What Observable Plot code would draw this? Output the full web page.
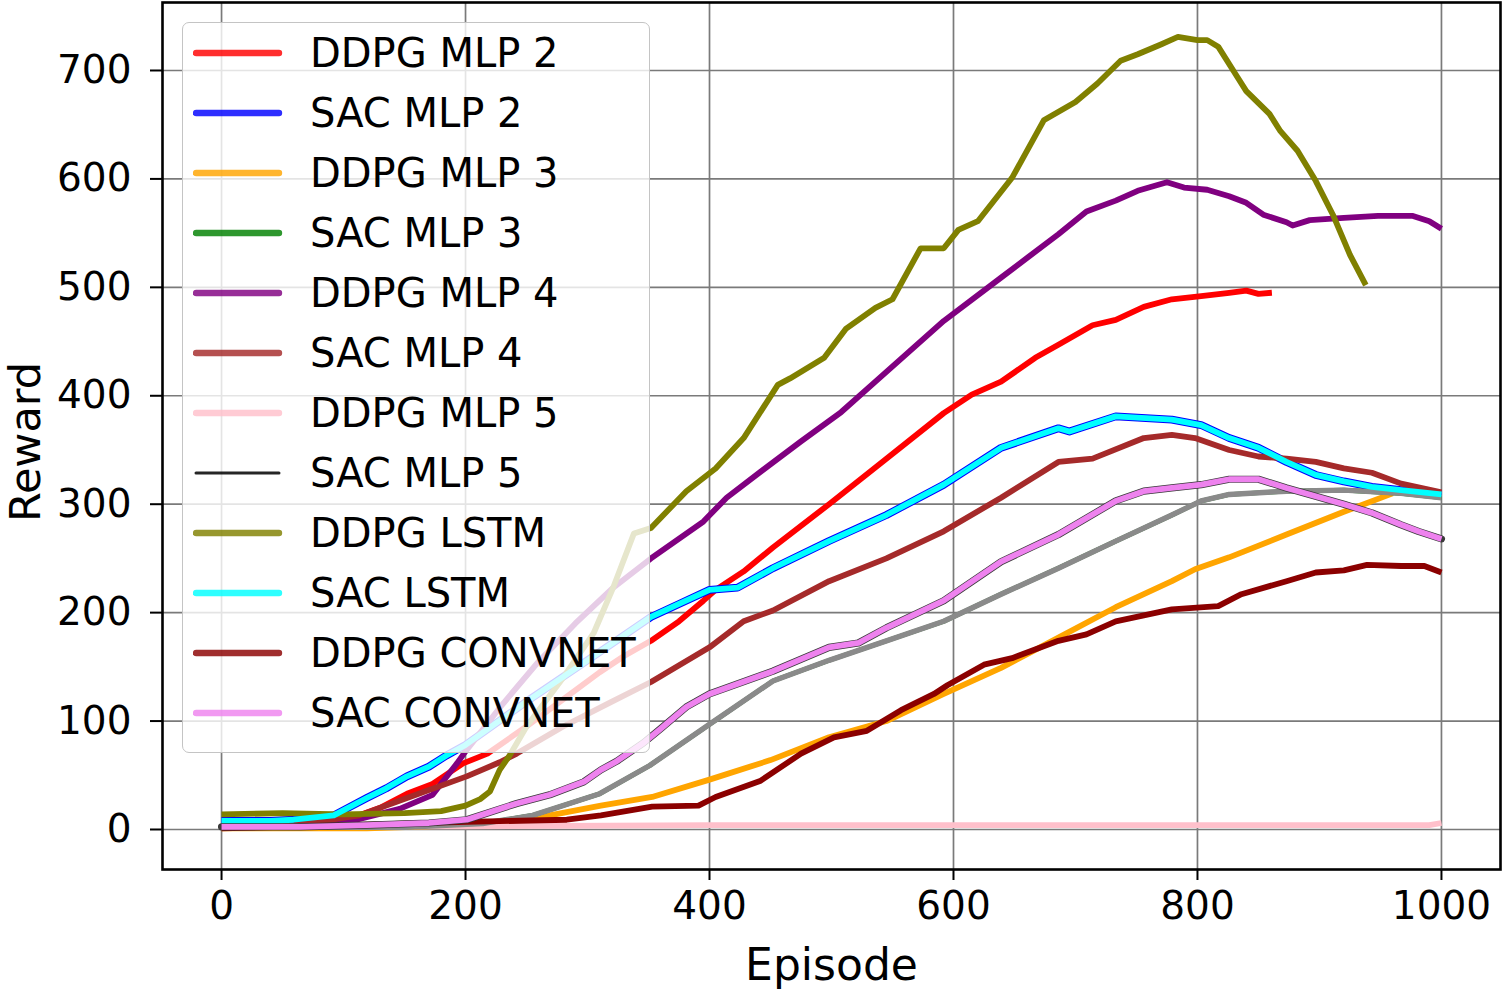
<!DOCTYPE html>
<html><head><meta charset="utf-8">
<script src="https://cdn.jsdelivr.net/npm/d3@7"></script>
<script src="https://cdn.jsdelivr.net/npm/@observablehq/plot@0.6"></script>
<style>
body{margin:0;background:#fff;}
#wrap{position:relative;width:1504px;height:996px;overflow:hidden;}
#legend{position:absolute;left:182px;top:22px;width:468px;height:731px;box-sizing:border-box;background:rgba(255,255,255,0.8);border:1.5px solid #c4c4c4;border-radius:7px;font-family:"DejaVu Sans",sans-serif;color:#000;}
.row{position:absolute;left:0;height:60px;display:flex;align-items:center;}
.row svg{margin-left:10px;}
.row span{position:absolute;left:127px;font-size:40px;white-space:nowrap;line-height:60px;}
</style></head>
<body><div id="wrap"><div id="legend"></div></div>
<script>
// ---------- data ----------
const seriesNames = ["DDPG MLP 2","SAC MLP 2","DDPG MLP 3","SAC MLP 3","DDPG MLP 4","SAC MLP 4","DDPG MLP 5","SAC MLP 5","DDPG LSTM","SAC LSTM","DDPG CONVNET","SAC CONVNET"];
const xTicks = [0,200,400,600,800,1000];
const yTicks = [0,100,200,300,400,500,600,700];

const ddpgMlp2 = [[0,2],[60,3],[90,6],[105,10],[130,20],[152,33],[173,42],[198,61],[218,70],[250,95],[280,120],[310,145],[330,160],[352,174],[375,192],[395,211],[405,221],[428,238],[452,260],[498,300],[545,342],[592,384],[615,401],[639,413],[667,435],[686,447],[714,465],[733,470],[756,482],[779,489],[803,492],[826,495],[840,497],[850,494],[861,495]];
const sacLstm = [[0,8],[40,8],[59,9],[92,13],[119,29],[135,38],[152,49],[170,58],[184,68],[200,78],[250,118],[300,156],[352,196],[375,208],[400,221],[423,223],[452,241],[498,266],[545,290],[592,318],[639,352],[686,370],[695,367],[733,381],[779,378],[803,373],[826,361],[850,352],[873,339],[897,327],[920,321],[943,316],[967,313],[1000,309]];
const sacMlp2 = sacLstm.map(d => [d[0], d[1]]);
const ddpgMlp3 = [[0,1],[119,1],[201,4],[255,10],[311,22],[353,30],[400,46],[450,64],[498,85],[545,100],[592,125],[639,149],[686,177],[733,205],[779,229],[798,240],[826,251],[873,272],[920,293],[960,310]];
const sacMlp5 = [[0,2],[150,2],[214,5.5],[255,13],[310,33],[351,59],[400,97],[452,137],[498,156],[545,174],[592,192],[639,217],[686,241],[733,266],[779,290],[803,303],[826,309],[873,312],[920,313],[967,310],[1000,306]];
const sacMlp3 = sacMlp5.map(d => [d[0], d[1]]);
const ddpgMlp4 = [[0,3],[60,4],[100,6],[146,19],[173,32],[184,48],[193,61],[200,72],[230,115],[260,155],[290,190],[320,222],[352,250],[395,284],[414,306],[442,330],[475,358],[508,385],[536,413],[592,469],[639,509],[686,549],[709,570],[733,580],[751,589],[775,597],[789,592],[808,590],[826,584],[840,578],[854,567],[873,560],[878,557],[892,562],[920,564],[948,566],[976,566],[990,561],[1000,554]];
const sacMlp4 = [[0,3],[60,4],[113,13],[152,29],[201,49],[228,62],[242,70],[280,95],[320,118],[352,136],[400,168],[428,192],[452,202],[498,229],[545,250],[592,275],[639,306],[686,339],[714,342],[756,361],[779,364],[798,361],[826,350],[850,344],[873,342],[897,339],[920,333],[943,329],[967,319],[1000,311]];
const ddpgMlp5 = [[0,3],[200,3],[400,4],[600,4],[800,4],[990,4],[1000,6]];
const ddpgLstm = [[0,14],[50,15],[100,14],[150,15],[180,17],[200,22],[212,28],[220,35],[228,55],[236,68],[250,95],[280,140],[305,181],[321,223],[338,273],[352,278],[381,312],[405,333],[428,361],[456,410],[466,416],[494,435],[512,462],[536,481],[550,489],[573,536],[592,536],[604,553],[620,561],[648,601],[674,654],[700,671],[718,688],[737,709],[751,715],[770,724],[784,731],[800,728],[808,728],[817,722],[831,697],[840,681],[859,660],[868,644],[882,626],[897,598],[911,567],[925,530],[938,502]];
const ddpgConvnet = [[0,1],[201,7],[283,9],[311,13],[353,21],[391,22],[405,30],[442,45],[475,70],[502,85],[529,91],[557,110],[584,125],[595,133],[625,152],[648,158],[686,174],[709,180],[733,192],[779,203],[817,206],[836,217],[873,229],[897,237],[920,239],[939,244],[967,243],[986,243],[1000,237]];
const sacConvnet = [[0,2.5],[64,2.5],[119,4],[170,6],[201,9],[242,24],[269,32],[297,44],[311,55],[324,63],[346,80],[360,93],[381,113],[400,125],[452,146],[498,168],[522,172],[545,186],[592,211],[639,247],[686,272],[733,303],[756,312],[779,315],[803,318],[826,323],[850,323],[873,315],[920,300],[943,292],[967,281],[981,275],[1000,268]];

const seriesData = [ddpgMlp2, sacMlp2, ddpgMlp3, sacMlp3, ddpgMlp4, sacMlp4, ddpgMlp5, sacMlp5, ddpgLstm, sacLstm, ddpgConvnet, sacConvnet];

// ---------- styles ----------
const seriesColors = ["#ff0000","#0000ff","#ffa500","#008000","#800080","#a52a2a","#ffc0cb","#000000","#808000","#00ffff","#8b0000","#ee82ee"];
const plotStroke = seriesColors.slice();
plotStroke[7] = "#8a8a8a";   // SAC MLP 5 renders as a grey band
const plotWidth = seriesColors.map(() => 5.8);
plotWidth[1] = 7.8; // blue sits under cyan, showing as an outline
plotWidth[3] = 4.6;
plotWidth[7] = 5.4;

const rows = seriesData.map((arr, i) => arr.map(([ep, val]) => ({series: seriesNames[i], ep, val})));

const marks = [
  Plot.gridX(xTicks, {stroke: "#7a7a7a", strokeWidth: 1.7, strokeOpacity: 1}),
  Plot.gridY(yTicks, {stroke: "#7a7a7a", strokeWidth: 1.7, strokeOpacity: 1})
];
rows.forEach((r, i) => {
  if (i === 11) {
    marks.push(Plot.line(r, {x: "ep", y: "val", stroke: "#3a3a3a", strokeWidth: 7.2, strokeLinejoin: "round"}));
  }
  marks.push(Plot.line(r, {x: "ep", y: "val", stroke: plotStroke[i], strokeWidth: plotWidth[i], strokeLinejoin: "round", strokeLinecap: "butt"}));
});
marks.push(
  Plot.frame({stroke: "#000", strokeWidth: 2.6}),
  Plot.axisX({ticks: xTicks, tickSize: 11, tickPadding: 11, fontSize: 39, strokeWidth: 2, label: null, tickFormat: d => String(d)}),
  Plot.axisY({ticks: yTicks, tickSize: 12, tickPadding: 19, fontSize: 39, strokeWidth: 2, label: null, tickFormat: d => String(d)}),
  Plot.text(["Episode"], {frameAnchor: "bottom", dy: 96, fontSize: 44, textAnchor: "middle", lineAnchor: "middle", text: d => d}),
  Plot.text(["Reward"], {frameAnchor: "left", dx: -136, dy: 6, rotate: -90, fontSize: 43, textAnchor: "middle", lineAnchor: "middle", text: d => d})
);

const chart = Plot.plot({
  width: 1504,
  height: 996,
  marginTop: 2,
  marginBottom: 127,
  marginLeft: 162,
  marginRight: 4,
  x: {domain: [-48.4, 1048.4]},
  y: {domain: [-36.9, 762.7]},
  style: {fontFamily: "DejaVu Sans, sans-serif", color: "#000", background: "#fff", overflow: "visible"},
  marks
});
document.getElementById("wrap").prepend(chart);

// ---------- legend ----------
const legend = document.getElementById("legend");
const legendWidth = seriesNames.map((n, i) => i === 7 ? 3 : 6.4);
seriesNames.forEach((name, i) => {
  const row = document.createElement("div");
  row.className = "row";
  row.style.top = (i * 60) + "px";
  row.innerHTML = `<svg width="90" height="20"><line x1="3" x2="86" y1="10" y2="10" stroke="${seriesColors[i]}" stroke-opacity="${i === 7 ? 0.85 : 0.82}" stroke-width="${legendWidth[i]}" stroke-linecap="round"/></svg><span>${name}</span>`;
  legend.appendChild(row);
});
</script>
</body></html>
